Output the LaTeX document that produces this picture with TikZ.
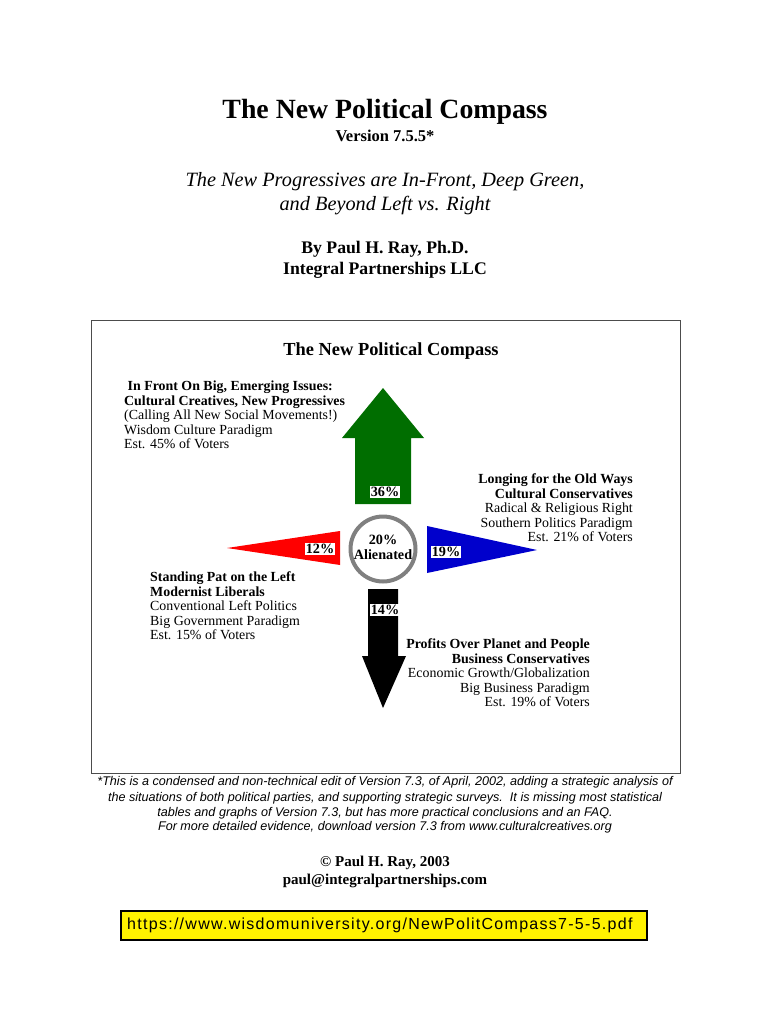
\documentclass[tikz,border=0pt]{standalone}
\usepackage{fontspec}
\setmainfont{Liberation Serif}
\setsansfont{Liberation Sans}
\newcommand{\fsize}[1]{\fontsize{#1}{14.5}\selectfont}
\definecolor{arrowgreen}{RGB}{0,110,0}

\begin{document}
\begin{tikzpicture}[x=1pt, y=-1pt,
    pagetext/.style={inner sep=0pt, align=center},
    sidetext/.style={inner sep=0pt, font=\fsize{13.9}},
    percent/.style={fill=white, inner sep=1pt, font=\fsize{14.2}\bfseries},
    notetext/.style={inner sep=0pt, align=center, font=\fsize{12.6}\sffamily\itshape}]
    \useasboundingbox (0,0) rectangle (770,1024);
    % title block
    \node[pagetext, font=\fsize{27.8}\bfseries] (title) at (385,112) {The New Political Compass};
    \node[pagetext, font=\fsize{16.5}\bfseries] (version) at (385,136) {Version 7.5.5*};
    \node[pagetext, font=\fsize{20.3}\itshape] (subtitleA) at (385,182) {The New Progressives are In-Front, Deep Green,};
    \node[pagetext, font=\fsize{20.3}\itshape] (subtitleB) at (385,206) {and Beyond Left vs. Right};
    \node[pagetext, font=\fsize{17.7}\bfseries] (byline) at (385,249) {By Paul H. Ray, Ph.D.};
    \node[pagetext, font=\fsize{17.7}\bfseries] (company) at (385,270) {Integral Partnerships LLC};
    % frame and compass
    \draw[black!70, line width=0.8pt] (91,320) rectangle (680,773);
    \node[pagetext, font=\fsize{18.4}\bfseries] (compass) at (391,351) {The New Political Compass};
    \fill[arrowgreen] (383,388) -- (424,438) -- (411,438) -- (411,504) -- (355,504) -- (355,438) -- (342,438) -- cycle;
    \fill[red] (227,548) -- (340,531) -- (340,565) -- cycle;
    \fill[blue!80!black] (537,550) -- (427,526) -- (427,573) -- cycle;
    \fill[black] (368,589) -- (398,589) -- (398,656) -- (406,656) -- (383,708) -- (362,656) -- (368,656) -- cycle;
    \node[circle, draw=black!50, line width=4pt, fill=white, minimum size=65pt, inner sep=0pt] (alienated) at (383,549) {};
    \node[pagetext, font=\fsize{14.2}\bfseries] (alienatedA) at (383,540) {20\%};
    \node[pagetext, font=\fsize{14.2}\bfseries] (alienatedB) at (383,555) {Alienated};
    \node[percent] (front) at (385,492) {36\%};
    \node[percent] (left) at (320,549) {12\%};
    \node[percent] (right) at (446,552) {19\%};
    \node[percent] (down) at (385,610) {14\%};
    % group captions
    \node[sidetext, anchor=north west, align=left] (frontcap) at (124,381) {\bfseries\ In Front On Big, Emerging Issues:\\\bfseries Cultural Creatives, New Progressives\\(Calling All New Social Movements!)\\Wisdom Culture Paradigm\\Est. 45\% of Voters};
    \node[sidetext, anchor=north west, align=left] (leftcap) at (150,572) {\bfseries Standing Pat on the Left\\\bfseries Modernist Liberals\\Conventional Left Politics\\Big Government Paradigm\\Est. 15\% of Voters};
    \node[sidetext, anchor=north east, align=right] (rightcap) at (633,474) {\bfseries Longing for the Old Ways\\\bfseries Cultural Conservatives\\Radical \& Religious Right\\Southern Politics Paradigm\\Est. 21\% of Voters};
    \node[sidetext, anchor=north east, align=right] (downcap) at (590,639) {\bfseries Profits Over Planet and People\\\bfseries Business Conservatives\\Economic Growth/Globalization\\Big Business Paradigm\\Est. 19\% of Voters};
    % footnote
    \node[notetext] (noteA) at (385,782) {*This is a condensed and non-technical edit of Version 7.3, of April, 2002, adding a strategic analysis of};
    \node[notetext] (noteB) at (385,798) {the situations of both political parties, and supporting strategic surveys.\ \ It is missing most statistical};
    \node[notetext] (noteC) at (385,813) {tables and graphs of Version 7.3, but has more practical conclusions and an FAQ.};
    \node[notetext] (noteD) at (385,827) {For more detailed evidence, download version 7.3 from www.culturalcreatives.org};
    \node[pagetext, font=\fsize{15}\bfseries] (copyright) at (385,863) {© Paul H. Ray, 2003};
    \node[pagetext, font=\fsize{15}\bfseries] (email) at (385,881) {paul@integralpartnerships.com};
    % link box
    \draw[black, line width=1.6pt, fill=yellow] (121,911) rectangle (647,940);
    \node[inner sep=0pt, anchor=west, font=\fsize{16}\sffamily\addfontfeature{LetterSpace=8}] (link) at (127,925) {https://www.wisdomuniversity.org/NewPolitCompass7-5-5.pdf};
\end{tikzpicture}
\end{document}
